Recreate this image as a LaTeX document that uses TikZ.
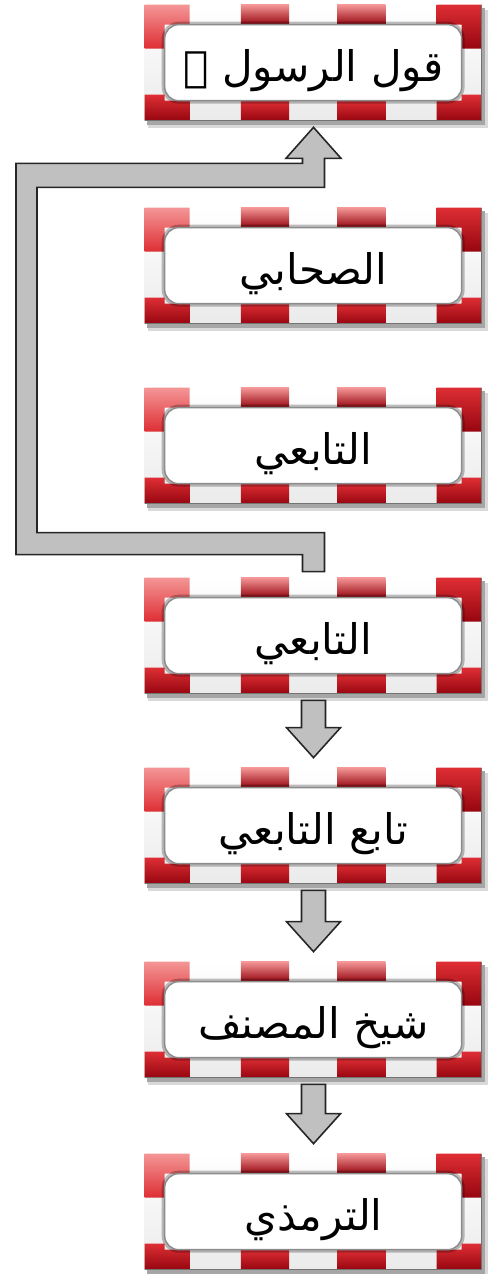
\documentclass[tikz,border=0pt]{standalone}
\usepackage{fontspec}
\newfontfamily\arabicfont[Script=Arabic]{DejaVu Sans}
\TeXXeTstate=1
\usepackage{tikz}
\usetikzlibrary{positioning,calc,backgrounds}

\definecolor{frameRed}{RGB}{222,46,52}
\definecolor{frameDark}{RGB}{150,6,16}
\definecolor{frameLight}{RGB}{244,150,150}
\definecolor{arrowGray}{RGB}{192,192,192}

\tikzset{
  hop/.style={minimum width=6.74cm, minimum height=2.32cm, inner sep=0pt,
    text height=22pt, text depth=1pt,
    font=\arabicfont\fontsize{24}{28}\selectfont},
  blockarrow/.style={fill=arrowGray, draw=black!85, line width=0.9pt, line join=miter},
}

% striped frame round a named box
\newcommand{\hopframe}[1]{%
  \begin{scope}[shift={(#1.north west)}]
    % shadow
    \fill[black!15] (3,5) rectangle ({\hopW+6},{\hopH+7});
    \fill[black!35] (2,3) rectangle ({\hopW+3},{\hopH+4});
    % white band
    \shade[top color=white, bottom color=black!8] (0,0) rectangle (\hopW,\hopH);
    % red corners
    \shade[top color=frameLight, bottom color=frameRed] (0,0) rectangle (45,\band) (0,0) rectangle (\band,44);
    \shade[top color=frameRed, bottom color=frameDark] ({\hopW-45},0) rectangle (\hopW,\band) ({\hopW-\band},0) rectangle (\hopW,44);
    \shade[top color=frameRed, bottom color=frameDark] (0,{\hopH-\band}) rectangle (45,\hopH) (0,{\hopH-26}) rectangle (\band,\hopH);
    \shade[top color=frameRed, bottom color=frameDark] ({\hopW-45},{\hopH-\band}) rectangle (\hopW,\hopH) ({\hopW-\band},{\hopH-26}) rectangle (\hopW,\hopH);
    % red dashes
    \foreach \k in {2,4} {
      \shade[top color=frameLight, middle color=frameRed, bottom color=frameDark] ({\k*\seg},0) rectangle ({(\k+1)*\seg},\band);
      \shade[top color=frameRed, bottom color=frameDark] ({\k*\seg},{\hopH-\band}) rectangle ({(\k+1)*\seg},\hopH);
    }
    % bevel and inside
    \draw[black, opacity=0.25, line width=3.4pt, rounded corners=8pt] (\band,\band) rectangle ({\hopW-\band},{\hopH-\band});
    \fill[white, draw=black!45, line width=0.8pt, rounded corners=8pt] (\band,\band) rectangle ({\hopW-\band},{\hopH-\band});
    \draw[black!55, line width=0.8pt] (0,\hopH) -- (\hopW,\hopH) -- (\hopW,0);
  \end{scope}}

\begin{document}
\begin{tikzpicture}[x=0.02cm, y=-0.02cm]
  % Box size in pixels
  \def\hopW{337}
  \def\hopH{116}
  \def\band{20}
  \def\seg{48.14}

  \useasboundingbox (0,0) rectangle (494,1274);

  % The chain of narrators
  \node[hop] (rasul)     at (313.5,63)   {\beginR قول الرسول ﷺ\endR};
  \node[hop] (sahabi)    at (313.5,266)  {\beginR الصحابي\endR};
  \node[hop] (tabii)     at (313.5,446)  {\beginR التابعي\endR};
  \node[hop] (tabiiB)    at (313.5,636)  {\beginR التابعي\endR};
  \node[hop] (tabiTabii) at (313.5,826)  {\beginR تابع التابعي\endR};
  \node[hop] (shaykh)    at (313.5,1020) {\beginR شيخ المصنف\endR};
  \node[hop] (tirmidhi)  at (313.5,1212) {\beginR الترمذي\endR};

  % Frames behind the text
  \begin{scope}[on background layer]
    \foreach \n in {rasul,sahabi,tabii,tabiiB,tabiTabii,shaykh,tirmidhi} {\hopframe{\n}}
  \end{scope}

  % Down arrows
  \foreach \a/\b in {tabiiB/tabiTabii, tabiTabii/shaykh, shaykh/tirmidhi} {
    \draw[blockarrow] ($(\a.south)+(-12,6)$) -- ($(\a.south)+(12,6)$) -- ($(\b.north)+(12,-40)$)
      -- ($(\b.north)+(27,-40)$) -- ($(\b.north)+(0,-10)$) -- ($(\b.north)+(-27,-40)$)
      -- ($(\b.north)+(-12,-40)$) -- cycle;
  }

  % Back arrow round the left
  \coordinate (dn) at ($(tabiiB.north)+(0,-6)$);
  \coordinate (up) at ($(rasul.south)+(0,6)$);
  \draw[blockarrow] ($(dn)+(11,0)$) -- ($(dn)+(-11,0)$) -- ($(dn)+(-11,-17)$) -- ($(dn)+(-297.5,-17)$)
    -- ($(up)+(-297.5,36)$) -- ($(up)+(-11,36)$) -- ($(up)+(-11,31)$) -- ($(up)+(-27.5,31)$)
    -- (up) -- ($(up)+(27.5,31)$) -- ($(up)+(11,31)$) -- ($(up)+(11,60)$) -- ($(up)+(-276.5,60)$)
    -- ($(dn)+(-276.5,-39)$) -- ($(dn)+(11,-39)$) -- cycle;

\end{tikzpicture}
\end{document}
